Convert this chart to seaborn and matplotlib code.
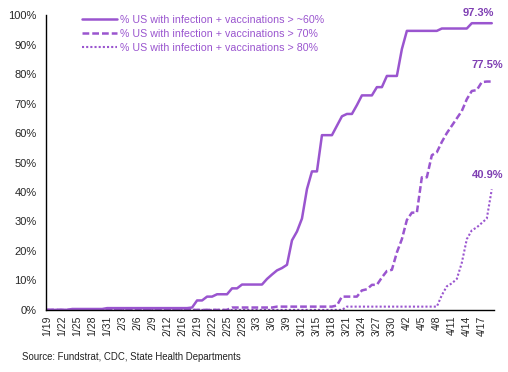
import datetime as dt
import numpy as np
import pandas as pd
import matplotlib
matplotlib.use("Agg")
import matplotlib.pyplot as plt
import seaborn as sns

# dates 1/19 - 4/19 (2/15 missing in the source data)
start = dt.date(2021, 1, 19)
dates = [start + dt.timedelta(days=i) for i in range(91)]
dates = [d for d in dates if d != dt.date(2021, 2, 15)]
date_labels = [f"{d.month}/{d.day}" for d in dates]

pct_60 = ([0.0] * 5 + [0.3] * 7 + [0.6] * 17 +
          [0.8, 3.2, 3.2, 4.5, 4.5, 5.3, 5.3, 5.3, 7.3, 7.3, 8.6,
           8.6, 8.6, 8.6, 8.6, 10.5, 12.0, 13.4, 14.2, 15.3, 23.6,
           26.6, 31.0, 41.0, 47.0, 47.0, 59.3, 59.3, 59.3, 62.5, 65.7,
           66.5, 66.5, 69.5, 72.8, 72.8, 72.8, 75.6, 75.6, 79.4, 79.4,
           79.4, 88.5, 94.7, 94.7, 94.7, 94.7, 94.7, 94.7, 94.7, 95.5,
           95.5, 95.5, 95.5, 95.5, 95.5, 97.3, 97.3, 97.3, 97.3, 97.3])

pct_70 = ([0.0] * 37 + [0.8] * 9 + [1.1] * 12 +
          [1.5, 4.5, 4.5, 4.5, 4.5, 6.6, 7.0, 8.5, 8.5, 11.0, 13.2,
           13.6, 19.5, 24.0, 30.5, 33.0, 33.0, 45.0, 45.0, 52.5, 53.5,
           57.0, 60.0, 62.5, 65.0, 67.5, 71.5, 74.3, 74.6, 77.3, 77.5,
           77.5])

pct_80 = ([0.0] * 60 + [1.1] * 19 +
          [5.0, 8.0, 9.0, 10.5, 16.0, 24.0, 27.0, 28.0, 29.5, 31.0, 40.9])

df = pd.DataFrame({"idx": np.arange(len(dates)),
                   "p60": np.array(pct_60) / 100,
                   "p70": np.array(pct_70) / 100,
                   "p80": np.array(pct_80) / 100})

purple = "#9a55cf"
label_col = "#7f3fb3"

sns.set_style("white")
plt.rcParams["font.family"] = ["Liberation Sans", "DejaVu Sans"]

fig = plt.figure(figsize=(5.08, 3.72), dpi=100)
ax = fig.add_axes([0.091, 0.167, 0.881, 0.792])

sns.lineplot(x="idx", y="p60", data=df, ax=ax, color=purple, lw=1.8,
             label="% US with infection + vaccinations > ~60%")
sns.lineplot(x="idx", y="p70", data=df, ax=ax, color=purple, lw=1.8,
             linestyle=(0, (2.7, 1.2)),
             label="% US with infection + vaccinations > 70%")
sns.lineplot(x="idx", y="p80", data=df, ax=ax, color=purple, lw=1.5,
             linestyle=(0, (1, 1)),
             label="% US with infection + vaccinations > 80%")

ax.set_xlim(-0.2, 89.4)
ax.set_ylim(0, 1.0)
ax.set_yticks(np.arange(0, 1.01, 0.1))
ax.set_yticklabels([f"{int(v)}%" for v in np.arange(0, 101, 10)], fontsize=8)
ax.set_xticks(df["idx"][::3])
ax.set_xticklabels(date_labels[::3], rotation=90, fontsize=7.5)
ax.tick_params(axis="y", length=0, pad=7)
ax.tick_params(axis="x", length=0, pad=4)
ax.set_xlabel("")
ax.set_ylabel("")
for s in ["top", "right"]:
    ax.spines[s].set_visible(False)
for s in ["left", "bottom"]:
    ax.spines[s].set_color("black")
    ax.spines[s].set_linewidth(1.0)

leg = ax.legend(loc="upper left", bbox_to_anchor=(0.07, 1.015), frameon=False,
                fontsize=7.7, handlelength=3.3, handletextpad=0.28,
                labelspacing=0.35, borderaxespad=0)
for t in leg.get_texts():
    t.set_color(purple)

last = df["idx"].iloc[-1]
for col, dx, dy in [("p60", -10, 3.5), ("p70", -3, 8), ("p80", -3, 6.5)]:
    v = df[col].iloc[-1]
    ax.annotate(f"{v * 100:.1f}%", (last, v), xytext=(dx, dy),
                textcoords="offset points", ha="center", va="bottom",
                fontsize=8, fontweight="bold", color=label_col,
                annotation_clip=False)

fig.text(0.043, 0.032, "Source: Fundstrat, CDC, State Health Departments",
         fontsize=6.9, color="#222222")

fig.savefig("out.png", dpi=100)
